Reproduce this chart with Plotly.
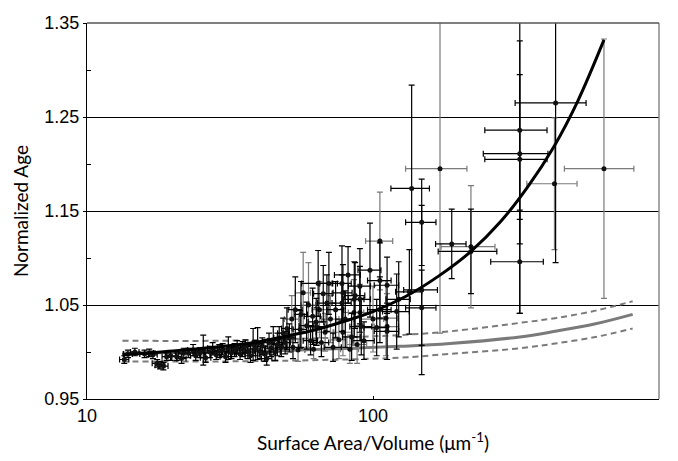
import plotly.graph_objects as go

# measured samples: surface area / volume (um^-1) and normalized age, with errors
sav = [13.5, 13.9, 14.7, 15.9, 16.5, 17.0, 17.6, 18.0, 18.5, 19.0,
       19.6, 20.6, 21.4, 21.8, 22.6, 23.5, 24.0, 24.8, 25.5, 26.0,
       26.9, 27.5, 28.3, 29.0, 29.8, 30.5, 31.2, 32.0, 32.8, 33.5,
       34.3, 35.0, 35.8, 36.5, 37.3, 38.1, 38.8, 39.5, 40.3, 41.0,
       41.8, 42.5, 43.3, 44.0, 44.8, 45.5, 46.3, 47.0, 47.8, 48.5,
       49.3, 50.0, 51.0, 52.0, 52.5, 53.5, 54.7, 55.6, 56.0, 57.0,
       58.6, 59.5, 60.5, 61.5, 62.0, 63.3, 63.5, 64.3, 65.0, 66.0,
       67.0, 68.0, 69.0, 70.1, 71.0, 72.5, 74.0, 76.0, 77.9, 77.9,
       78.5, 78.5, 80.0, 81.8, 83.0, 84.2, 85.8, 86.0, 86.6, 88.0,
       90.0, 90.0, 90.0, 91.0, 93.0, 97.6, 100.0, 103.0, 105.7, 105.7,
       105.7, 111.0, 112.0, 112.0, 112.0, 121.0, 123.0, 134.0, 136.5, 148.0,
       148.0, 148.0, 171.5, 188.5, 220.0, 220.0, 326.0, 326.0, 326.0, 326.0,
       435.0, 431.0, 642.0]
age = [0.992, 0.998, 1.000, 0.998, 0.999, 0.997, 0.988, 0.986, 0.985, 0.995,
       0.996, 0.995, 0.993, 0.999, 0.999, 1.002, 0.996, 0.999, 1.002, 0.994,
       1.000, 1.004, 0.997, 1.001, 1.003, 0.995, 1.004, 0.999, 1.002, 1.005,
       0.998, 1.003, 1.006, 1.000, 0.996, 1.008, 1.004, 1.009, 1.001, 1.006,
       0.998, 0.993, 1.010, 1.004, 1.012, 1.000, 1.008, 1.015, 1.005, 1.020,
       1.010, 1.025, 1.015, 1.035, 1.005, 1.045, 1.002, 1.024, 1.040, 1.063,
       1.028, 1.050, 1.012, 1.038, 1.003, 1.032, 1.027, 1.073, 1.045, 1.010,
       1.062, 1.021, 1.052, 1.073, 1.035, 1.005, 1.045, 1.013, 1.073, 1.052,
       1.063, 1.021, 1.035, 1.082, 1.003, 1.016, 1.042, 1.056, 1.060, 1.008,
       1.070, 1.056, 1.042, 1.027, 1.012, 1.087, 1.035, 1.026, 1.118, 1.076,
       1.045, 1.036, 1.071, 1.027, 1.022, 1.043, 1.056, 1.064, 1.174, 1.138,
       1.066, 1.047, 1.195, 1.115, 1.112, 1.107, 1.236, 1.211, 1.205, 1.096,
       1.265, 1.179, 1.195]
sav_err = [0.5, 0.5, 0.5, 0.6, 0.6, 0.6, 0.7, 0.7, 0.7, 0.7,
           0.8, 0.8, 0.8, 0.9, 0.9, 1.0, 1.0, 1.0, 1.0, 1.1,
           1.1, 1.1, 1.2, 1.2, 1.2, 1.3, 1.3, 1.3, 1.4, 1.4,
           1.4, 1.5, 1.5, 1.5, 1.6, 1.6, 1.6, 1.7, 1.7, 1.7,
           1.8, 1.8, 1.8, 1.9, 1.9, 1.9, 2.0, 2.0, 2.0, 2.1,
           2.1, 2.1, 2.5, 3.0, 2.5, 3.0, 3.0, 3.0, 3.0, 3.5,
           3.5, 3.5, 3.5, 4.0, 4.0, 4.0, 4.0, 8.0, 4.0, 4.0,
           5.0, 5.0, 5.0, 5.0, 5.0, 5.0, 5.0, 5.0, 6.0, 6.0,
           6.0, 6.0, 6.0, 8.5, 6.0, 6.0, 7.0, 7.0, 7.0, 7.0,
           8.0, 8.0, 8.0, 8.0, 8.0, 9.0, 9.0, 10.0, 11.5, 10.0,
           10.0, 11.0, 11.0, 11.0, 11.0, 13.0, 12.0, 14.0, 21.0, 18.0,
           20.0, 18.0, 41.5, 23.0, 47.0, 51.0, 80.0, 83.0, 80.0, 68.0,
           121.0, 86.0, 175.0]
age_err = [0.004, 0.004, 0.004, 0.004, 0.004, 0.004, 0.004, 0.004, 0.004, 0.004,
           0.005, 0.004, 0.005, 0.005, 0.005, 0.006, 0.005, 0.005, 0.016, 0.005,
           0.006, 0.006, 0.005, 0.007, 0.006, 0.006, 0.012, 0.006, 0.007, 0.007,
           0.006, 0.008, 0.007, 0.007, 0.007, 0.017, 0.008, 0.017, 0.008, 0.009,
           0.008, 0.007, 0.010, 0.009, 0.015, 0.009, 0.012, 0.012, 0.010, 0.016,
           0.012, 0.022, 0.015, 0.025, 0.012, 0.035, 0.012, 0.020, 0.035, 0.043,
           0.025, 0.045, 0.015, 0.030, 0.010, 0.025, 0.020, 0.035, 0.030, 0.015,
           0.030, 0.020, 0.030, 0.033, 0.025, 0.015, 0.030, 0.020, 0.040, 0.030,
           0.030, 0.025, 0.030, 0.030, 0.015, 0.025, 0.035, 0.040, 0.035, 0.020,
           0.040, 0.035, 0.030, 0.030, 0.020, 0.050, 0.035, 0.030, 0.052, 0.040,
           0.035, 0.040, 0.030, 0.035, 0.030, 0.040, 0.040, 0.045, 0.110, 0.046,
           0.090, 0.040, 0.175, 0.037, 0.065, 0.045, 0.095, 0.170, 0.090, 0.055,
           0.170, 0.070, 0.138]
# samples whose error bars are drawn in grey in the original
grey_idx = [53, 56, 59, 61, 64, 68, 71, 74, 77, 81, 84, 86, 89, 92, 96, 98,
            101, 103, 112, 114, 121, 122]

# black fitted curve
fit_sav = [13.3, 20, 30, 40, 50, 60, 80, 100, 130, 170, 220, 280, 350, 430, 520, 642]
fit_age = [0.997, 1.001, 1.006, 1.011, 1.017, 1.022, 1.033, 1.043, 1.059, 1.081,
           1.107, 1.139, 1.177, 1.219, 1.267, 1.332]

# grey model curve with its upper / lower bounds
model_sav = [13.3, 30, 55, 124, 186, 326, 433, 600, 809]
model_age = [0.999, 1.000, 1.002, 1.006, 1.009, 1.016, 1.022, 1.030, 1.040]
model_hi = [1.012, 1.012, 1.014, 1.018, 1.022, 1.031, 1.036, 1.044, 1.054]
model_lo = [0.990, 0.990, 0.991, 0.994, 0.998, 1.004, 1.009, 1.016, 1.025]

GREY = '#7a7a7a'
TICK_FONT = dict(family='Liberation Sans', size=18, color='black')
TITLE_FONT = dict(family='Lato', size=19, color='black')

fig = go.Figure()

for bound in (model_hi, model_lo):
    fig.add_trace(go.Scatter(
        x=model_sav, y=bound, mode='lines', line_shape='spline',
        line=dict(color=GREY, width=2, dash='6px,4px'), hoverinfo='skip',
    ))
fig.add_trace(go.Scatter(
    x=model_sav, y=model_age, mode='lines', line_shape='spline',
    line=dict(color=GREY, width=3),
))

groups = (
    ([i for i in range(len(sav)) if i in grey_idx], GREY),
    ([i for i in range(len(sav)) if i not in grey_idx], 'black'),
)
for idx, bar_color in groups:
    fig.add_trace(go.Scatter(
        x=[sav[i] for i in idx],
        y=[age[i] for i in idx],
        mode='markers',
        marker=dict(color='#111111', size=5),
        error_x=dict(type='data', array=[sav_err[i] for i in idx],
                     color=bar_color, thickness=1.2, width=3),
        error_y=dict(type='data', array=[age_err[i] for i in idx],
                     color=bar_color, thickness=1.2, width=3),
    ))

fig.add_trace(go.Scatter(
    x=fit_sav, y=fit_age, mode='lines', line_shape='spline',
    line=dict(color='black', width=3),
))

fig.update_layout(
    width=678, height=461,
    margin=dict(l=87, r=19, t=23, b=62),
    plot_bgcolor='white', paper_bgcolor='white',
    showlegend=False,
    xaxis=dict(
        type='log', range=[1, 3], automargin=False,
        tickvals=[10, 100, 1000], ticktext=['10', '100', '1000'],
        ticks='inside', ticklen=3, tickcolor='black',
        showline=True, linecolor='black', linewidth=1.3,
        showgrid=False, zeroline=False,
        tickfont=TICK_FONT,
        title=dict(text='Surface Area/Volume (μm<sup>-1</sup>)', font=TITLE_FONT, standoff=11),
    ),
    yaxis=dict(
        range=[0.95, 1.35], automargin=False,
        tickvals=[0.95, 1.05, 1.15, 1.25, 1.35],
        ticktext=['0.95', '1.05', '1.15', '1.25', '1.35'],
        ticks='outside', ticklen=3, tickcolor='black',
        showline=True, linecolor='black', linewidth=1.3,
        showgrid=True, gridcolor='black', gridwidth=1,
        zeroline=False,
        minor=dict(tickvals=[1.0, 1.1, 1.2, 1.3], ticks='inside', ticklen=4,
                   tickcolor='black', showgrid=False),
        tickfont=TICK_FONT,
        title=dict(text='Normalized Age', font=TITLE_FONT, standoff=10),
    ),
    shapes=[
        dict(type='line', xref='paper', yref='paper', x0=1, x1=1, y0=0, y1=1,
             line=dict(color='#8a8a8a', width=1.5)),
        dict(type='line', xref='paper', yref='paper', x0=0, x1=1, y0=1, y1=1,
             line=dict(color='#555555', width=1.3)),
    ],
)

# drop the browser's default page margin so the figure sits at the window origin
fig.write_html('out.html', config={'displayModeBar': False},
               post_script="document.body.style.margin='0';")
